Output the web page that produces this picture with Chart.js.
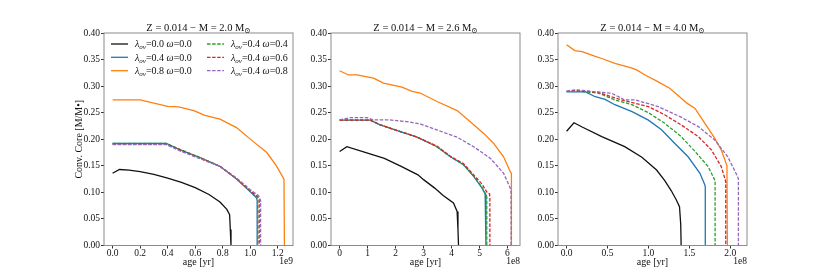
<!DOCTYPE html>
<html>
<head>
<meta charset="utf-8">
<script src="https://cdn.jsdelivr.net/npm/chart.js@4.4.0/dist/chart.umd.min.js"></script>
<style>
  body { margin: 0; background: #fff; }
  #wrap { position: relative; width: 830px; height: 276px; overflow: hidden; }
  .panel { position: absolute; top: 0; width: 279px; height: 276px; }
</style>
</head>
<body>
<div id="wrap">
  <div class="panel" style="left:44px"><canvas id="c1" width="279" height="276"></canvas></div>
  <div class="panel" style="left:271px"><canvas id="c2" width="279" height="276"></canvas></div>
  <div class="panel" style="left:498px"><canvas id="c3" width="279" height="276"></canvas></div>
</div>
<script>
// ---- data (age in units of the offset: 1e9 / 1e8 yr, core in M/M*) ----
var massLabels = ['2.0', '2.6', '4.0'];
var lambdaVals = ['0.0', '0.4', '0.8', '0.4', '0.4', '0.4'];
var omegaVals  = ['0.0', '0.0', '0.0', '0.4', '0.6', '0.8'];

// Z=0.014, M=2.0 (x 1e9 yr)
var age20_a = [0, 0.05, 0.12, 0.2, 0.3, 0.4, 0.5, 0.6, 0.7, 0.78, 0.83, 0.85, 0.855, 0.86];
var core20_a = [0.136, 0.143, 0.142, 0.139, 0.134, 0.127, 0.119, 0.109, 0.096, 0.082, 0.068, 0.058, 0.03, 0];
var age20_b = [0, 0.39, 0.49, 0.64, 0.78, 0.9, 1.0, 1.045, 1.05, 1.05];
var core20_b = [0.192, 0.192, 0.18, 0.165, 0.149, 0.125, 0.101, 0.09, 0.085, 0];
var age20_c = [0, 0.2, 0.4, 0.48, 0.59, 0.67, 0.78, 0.9, 1.02, 1.12, 1.19, 1.245, 1.248];
var core20_c = [0.274, 0.274, 0.262, 0.261, 0.254, 0.245, 0.238, 0.222, 0.196, 0.175, 0.15, 0.125, 0];
var age20_d = [0, 0.39, 0.49, 0.64, 0.78, 0.9, 1.0, 1.05, 1.055, 1.055];
var core20_d = [0.192, 0.192, 0.181, 0.165, 0.149, 0.126, 0.102, 0.09, 0.085, 0];
var age20_e = [0, 0.39, 0.49, 0.64, 0.78, 0.9, 1.0, 1.055, 1.065, 1.065];
var core20_e = [0.191, 0.191, 0.18, 0.164, 0.149, 0.126, 0.103, 0.092, 0.086, 0];
var age20_f = [0, 0.39, 0.49, 0.64, 0.78, 0.9, 1.0, 1.06, 1.075, 1.075];
var core20_f = [0.190, 0.190, 0.178, 0.163, 0.149, 0.127, 0.105, 0.094, 0.085, 0];

// Z=0.014, M=2.6 (x 1e8 yr)
var age26_a = [0, 0.26, 1.0, 1.6, 2.2, 2.8, 3.0, 3.4, 3.7, 4.07, 4.2, 4.23, 4.25];
var core26_a = [0.177, 0.186, 0.174, 0.164, 0.149, 0.133, 0.124, 0.108, 0.094, 0.08, 0.064, 0.03, 0];
var age26_b = [0, 1.1, 1.45, 2.17, 2.77, 3.48, 3.96, 4.43, 4.79, 5.09, 5.2, 5.23, 5.23];
var core26_b = [0.236, 0.236, 0.227, 0.2145, 0.204, 0.186, 0.167, 0.152, 0.13, 0.108, 0.097, 0.092, 0];
var age26_c = [0, 0.32, 0.62, 1.21, 1.57, 2.23, 2.59, 2.88, 3.48, 4.2, 4.67, 5.15, 5.5, 5.86, 6.1, 6.14, 6.14];
var core26_c = [0.329, 0.321, 0.321, 0.315, 0.3055, 0.298, 0.29, 0.287, 0.271, 0.254, 0.233, 0.211, 0.1925, 0.167, 0.139, 0.135, 0];
var age26_d = [0, 1.1, 1.45, 2.17, 2.77, 3.48, 3.96, 4.43, 4.79, 5.1, 5.22, 5.26, 5.26];
var core26_d = [0.236, 0.236, 0.227, 0.2145, 0.204, 0.186, 0.167, 0.152, 0.131, 0.109, 0.097, 0.092, 0];
var age26_e = [0, 1.1, 1.45, 2.17, 2.77, 3.48, 3.96, 4.43, 4.79, 5.1, 5.27, 5.36, 5.37, 5.37];
var core26_e = [0.236, 0.236, 0.227, 0.2145, 0.204, 0.187, 0.168, 0.154, 0.133, 0.115, 0.1, 0.097, 0.09, 0];
var age26_f = [0, 0.38, 0.98, 1.21, 1.8, 2.41, 2.88, 3.48, 4.2, 4.79, 5.39, 5.86, 6.1, 6.13, 6.13];
var core26_f = [0.2364, 0.2408, 0.2408, 0.2364, 0.2364, 0.233, 0.229, 0.2176, 0.2038, 0.186, 0.164, 0.136, 0.108, 0.1, 0];

// Z=0.014, M=4.0 (x 1e8 yr)
var age40_a = [0, 0.09, 0.19, 0.43, 0.71, 0.92, 1.1, 1.2, 1.28, 1.34, 1.38, 1.395, 1.40];
var core40_a = [0.215, 0.231, 0.223, 0.205, 0.186, 0.166, 0.142, 0.122, 0.103, 0.086, 0.073, 0.04, 0];
var age40_b = [0, 0.1, 0.23, 0.35, 0.47, 0.59, 0.8, 1.0, 1.16, 1.32, 1.485, 1.63, 1.69, 1.695, 1.695];
var core40_b = [0.289, 0.289, 0.289, 0.28, 0.275, 0.265, 0.252, 0.236, 0.218, 0.1925, 0.167, 0.136, 0.114, 0.11, 0];
var age40_c = [0, 0.1, 0.19, 0.35, 0.43, 0.59, 0.8, 0.86, 0.96, 1.12, 1.26, 1.36, 1.47, 1.57, 1.69, 1.81, 1.89, 1.96, 1.965];
var core40_c = [0.378, 0.367, 0.365, 0.356, 0.352, 0.343, 0.334, 0.33, 0.321, 0.308, 0.296, 0.283, 0.268, 0.258, 0.23, 0.202, 0.18, 0.15, 0];
var age40_d = [0, 0.1, 0.39, 0.59, 0.8, 1.0, 1.2, 1.4, 1.57, 1.73, 1.81, 1.815, 1.815];
var core40_d = [0.29, 0.291, 0.287, 0.274, 0.265, 0.25, 0.23, 0.205, 0.177, 0.1485, 0.1235, 0.12, 0];
var age40_e = [0, 0.1, 0.39, 0.67, 1.0, 1.2, 1.4, 1.61, 1.77, 1.89, 1.94, 1.945, 1.945];
var core40_e = [0.29, 0.292, 0.288, 0.274, 0.2615, 0.246, 0.227, 0.205, 0.18, 0.1485, 0.1235, 0.12, 0];
var age40_f = [0, 0.1, 0.2, 0.31, 0.55, 0.71, 0.84, 1.12, 1.4, 1.61, 1.81, 1.97, 2.09, 2.1, 2.1];
var core40_f = [0.29, 0.293, 0.292, 0.29, 0.2867, 0.274, 0.274, 0.2615, 0.2415, 0.2238, 0.1988, 0.167, 0.1297, 0.125, 0];

var yTicks = [0, 0.05, 0.1, 0.15, 0.2, 0.25, 0.3, 0.35, 0.4];
var xTicks20 = [0, 0.2, 0.4, 0.6, 0.8, 1.0, 1.2];
var xTicks26 = [0, 1, 2, 3, 4, 5, 6];
var xTicks40 = [0, 0.5, 1.0, 1.5, 2.0];

// ---- styles ----
var FONT = "'Liberation Serif', 'DejaVu Serif', serif";
var lineColors = ['#111111', '#1f77b4', '#ff7f0e', '#2ca02c', '#d62728', '#9467bd'];
var dashed = [false, false, false, true, true, true];

function toPoints(xs, ys) {
    return xs.map(function (x, i) { return { x: x, y: ys[i] }; });
}

// draws frame, title, offset text and (panel 1) the legend
function decorPlugin(mass, offsetText, withLegend) {
    return {
        id: 'decor',
        afterDraw: function (chart) {
            var ctx = chart.ctx, a = chart.chartArea;
            ctx.save();
            ctx.strokeStyle = '#8c8c8c';
            ctx.lineWidth = 1;
            ctx.strokeRect(a.left, a.top, a.right - a.left, a.bottom - a.top);

            // title
            ctx.fillStyle = '#111';
            ctx.textBaseline = 'alphabetic';
            var main = 'Z = 0.014 \u2212 M = ' + mass + ' M';
            ctx.font = '10.5px ' + FONT;
            var w1 = ctx.measureText(main).width;
            ctx.font = '7.5px ' + FONT;
            var w2 = ctx.measureText('\u2299').width;
            var x0 = (a.left + a.right) / 2 - (w1 + w2) / 2;
            ctx.font = '10.5px ' + FONT;
            ctx.textAlign = 'left';
            ctx.fillText(main, x0, 30.5);
            ctx.font = '7.5px ' + FONT;
            ctx.fillText('\u2299', x0 + w1, 32.5);

            // offset text
            ctx.font = '9.5px ' + FONT;
            ctx.textAlign = 'right';
            ctx.fillText(offsetText, a.right, 263.5);

            if (withLegend) {
                var rowY = [11, 24.3, 37.7];
                var colX = [7, 103];
                for (var i = 0; i < 6; i++) {
                    var col = i < 3 ? 0 : 1;
                    var y = a.top + rowY[i % 3];
                    var lx = a.left + colX[col];
                    ctx.beginPath();
                    ctx.strokeStyle = lineColors[i];
                    ctx.lineWidth = 1.3;
                    ctx.setLineDash(dashed[i] ? [3.5, 1.6] : []);
                    ctx.moveTo(lx, y);
                    ctx.lineTo(lx + 17, y);
                    ctx.stroke();
                    ctx.setLineDash([]);

                    var tx = lx + 24, base = y + 3.3;
                    ctx.textAlign = 'left';
                    ctx.fillStyle = '#111';
                    ctx.font = 'italic 10px ' + FONT;
                    ctx.fillText('\u03bb', tx, base);
                    tx += ctx.measureText('\u03bb').width;
                    ctx.font = 'italic 7px ' + FONT;
                    ctx.fillText('ov', tx, base + 2);
                    tx += ctx.measureText('ov').width;
                    ctx.font = '10px ' + FONT;
                    var s = '=' + lambdaVals[i] + ' ';
                    ctx.fillText(s, tx, base);
                    tx += ctx.measureText(s).width;
                    ctx.font = 'italic 10px ' + FONT;
                    ctx.fillText('\u03c9', tx, base);
                    tx += ctx.measureText('\u03c9').width;
                    ctx.font = '10px ' + FONT;
                    ctx.fillText('=' + omegaVals[i], tx, base);
                }
            }
            ctx.restore();
        }
    };
}

function makePanel(id, mass, ages, cores, xMin, xMax, xTicks, decimals, offsetText, showYTitle, withLegend) {
    var datasets = ages.map(function (xs, i) {
        return {
            data: toPoints(xs, cores[i]),
            showLine: true,
            borderColor: lineColors[i],
            backgroundColor: lineColors[i],
            borderWidth: 1.3,
            borderDash: dashed[i] ? [3.5, 1.6] : [],
            pointRadius: 0,
            tension: 0,
            order: 6 - i
        };
    });

    new Chart(document.getElementById(id).getContext('2d'), {
        type: 'scatter',
        data: { datasets: datasets },
        options: {
            responsive: false,
            animation: false,
            layout: { padding: { top: 33, right: 30, bottom: 0, left: 0 } },
            plugins: { legend: { display: false }, tooltip: { enabled: false } },
            scales: {
                x: {
                    type: 'linear',
                    min: xMin,
                    max: xMax,
                    afterBuildTicks: function (scale) {
                        scale.ticks = xTicks.map(function (v) { return { value: v }; });
                    },
                    afterFit: function (scale) { scale.height = 30.5; },
                    grid: { drawOnChartArea: false, drawTicks: true, tickLength: 3, color: '#333' },
                    border: { display: false },
                    ticks: {
                        color: '#111', padding: -1, maxRotation: 0, autoSkip: false,
                        font: { family: FONT, size: 9.5 },
                        callback: function (v) { return v.toFixed(decimals); }
                    },
                    title: {
                        display: true, text: 'age [yr]', color: '#111',
                        font: { family: FONT, size: 10 },
                        padding: { top: 0, bottom: 8 }
                    }
                },
                y: {
                    type: 'linear',
                    min: 0,
                    max: 0.4,
                    afterBuildTicks: function (scale) {
                        scale.ticks = yTicks.map(function (v) { return { value: v }; });
                    },
                    afterFit: function (scale) { scale.width = 60; },
                    grid: { drawOnChartArea: false, drawTicks: true, tickLength: 3, color: '#333' },
                    border: { display: false },
                    ticks: {
                        color: '#111', padding: 1,
                        font: { family: FONT, size: 9.5 },
                        callback: function (v) { return v.toFixed(2); }
                    },
                    title: {
                        display: showYTitle, text: 'Conv. Core [M/M\u2022]', color: '#111',
                        font: { family: FONT, size: 10 },
                        padding: { top: 29, bottom: 0 }
                    }
                }
            }
        },
        plugins: [decorPlugin(mass, offsetText, withLegend)]
    });
}

makePanel('c1', massLabels[0],
    [age20_a, age20_b, age20_c, age20_d, age20_e, age20_f],
    [core20_a, core20_b, core20_c, core20_d, core20_e, core20_f],
    -0.0624, 1.3104, xTicks20, 1, '1e9', true, true);

makePanel('c2', massLabels[1],
    [age26_a, age26_b, age26_c, age26_d, age26_e, age26_f],
    [core26_a, core26_b, core26_c, core26_d, core26_e, core26_f],
    -0.307, 6.447, xTicks26, 0, '1e8', false, false);

makePanel('c3', massLabels[2],
    [age40_a, age40_b, age40_c, age40_d, age40_e, age40_f],
    [core40_a, core40_b, core40_c, core40_d, core40_e, core40_f],
    -0.105, 2.205, xTicks40, 1, '1e8', false, false);
</script>
</body>
</html>
